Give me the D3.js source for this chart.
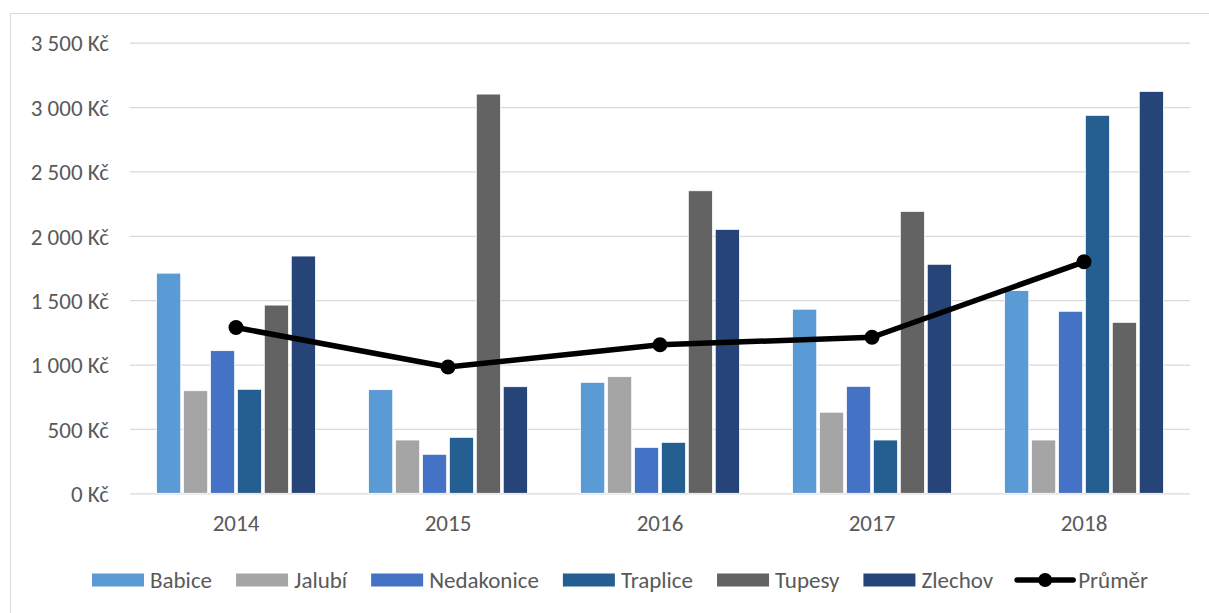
<!DOCTYPE html>
<html><head><meta charset="utf-8">
<script src="https://cdn.jsdelivr.net/npm/d3@7"></script>
<style>body{margin:0;background:#fff;} svg{display:block;} text{font-family:Carlito,Lato,"Liberation Sans",sans-serif;fill:#595959;}</style>
</head><body>
<svg id="c" width="1209" height="613"></svg>
<script>
const years = ["2014","2015","2016","2017","2018"];
const seriesNames = ["Babice","Jalubí","Nedakonice","Traplice","Tupesy","Zlechov"];
const babice     = [1710, 805, 862, 1430, 1575];
const jalubi     = [ 797, 414, 906,  630,  414];
const nedakonice = [1108, 303, 357,  831, 1414];
const traplice   = [ 808, 435, 396,  414, 2936];
const tupesy     = [1462,3101,2350, 2190, 1328];
const zlechov    = [1843, 828,2050, 1779, 3122];
const prumer     = [1288, 981,1154, 1212, 1798];
const yTicks = [0,500,1000,1500,2000,2500,3000,3500];
const colors = ["#5B9BD5","#A5A5A5","#4472C4","#255E91","#636363","#264478"];
const seriesValues = [babice,jalubi,nedakonice,traplice,tupesy,zlechov];

const FS = 23;
const svg = d3.select("#c");
svg.append("rect").attr("x",10.5).attr("y",13.5).attr("width",1220).attr("height",620)
  .attr("fill","none").attr("stroke","#d9d9d9").attr("stroke-width",1);

const x0 = d3.scaleBand().domain(years).range([130,1190]).padding(0);
const gw = x0.bandwidth()*0.75;
const x1 = d3.scaleBand().domain(seriesNames).range([0,gw]).paddingInner(0.1).paddingOuter(0);
const y = d3.scaleLinear().domain([0,3500]).range([493.3,42.7]);

// gridlines
const yAxis = d3.axisLeft(y).tickValues(yTicks).tickSize(-(1190-130)).tickPadding(21)
  .tickFormat(d => d3.format(",")(d).replace(/,/g," ") + " Kč");
const ga = svg.append("g").attr("transform","translate(130,0)").call(yAxis);
ga.select(".domain").remove();
ga.selectAll(".tick line").attr("stroke","#d9d9d9").attr("stroke-width",1.3);
ga.selectAll(".tick text").attr("font-size",FS).attr("fill","#595959").attr("dy","0.36em");

// bars
seriesNames.forEach((s,i)=>{
  svg.append("g").selectAll("rect").data(years).join("rect")
    .attr("x", (d)=> x0(d) + (x0.bandwidth()-gw)/2 + x1(s))
    .attr("width", x1.bandwidth())
    .attr("y", (d,j)=> y(seriesValues[i][j]))
    .attr("height", (d,j)=> y(0)-y(seriesValues[i][j]))
    .attr("fill", colors[i]).attr("stroke","#ffffff").attr("stroke-width",0.8);
});

// x axis labels
const xAxis = d3.axisBottom(x0).tickSize(0).tickPadding(21);
const gx = svg.append("g").attr("transform","translate(0,493.3)").call(xAxis);
gx.select(".domain").remove();
gx.selectAll(".tick text").attr("font-size",FS).attr("fill","#595959");

// average line
const cx = d => x0(d)+x0.bandwidth()/2;
svg.append("path").datum(prumer)
  .attr("d", d3.line().x((d,i)=>cx(years[i])).y(d=>y(d)))
  .attr("fill","none").attr("stroke","#000").attr("stroke-width",5.5).attr("stroke-linejoin","round");
svg.append("g").selectAll("circle").data(prumer).join("circle")
  .attr("cx",(d,i)=>cx(years[i])).attr("cy",d=>y(d)).attr("r",7.5).attr("fill","#000");

// legend
const leg = svg.append("g");
let lx = 92; const ly = 580;
const items = seriesNames.map((s,i)=>({name:s,color:colors[i],type:"bar"})).concat([{name:"Průměr",type:"line"}]);
items.forEach(it=>{
  if(it.type==="bar"){
    leg.append("rect").attr("x",lx).attr("y",ly-6.5).attr("width",52).attr("height",13).attr("fill",it.color);
  } else {
    leg.append("line").attr("x1",lx).attr("x2",lx+56).attr("y1",ly).attr("y2",ly).attr("stroke","#000").attr("stroke-width",5.5).attr("stroke-linecap","round");
    leg.append("circle").attr("cx",lx+28).attr("cy",ly).attr("r",7).attr("fill","#000");
  }
  const w = it.type==="bar"?58:61;
  const t = leg.append("text").attr("x",lx+w).attr("y",ly+7.5).attr("font-size",FS).text(it.name);
  lx += w + t.node().getComputedTextLength() + 24;
});
</script>
</body></html>
